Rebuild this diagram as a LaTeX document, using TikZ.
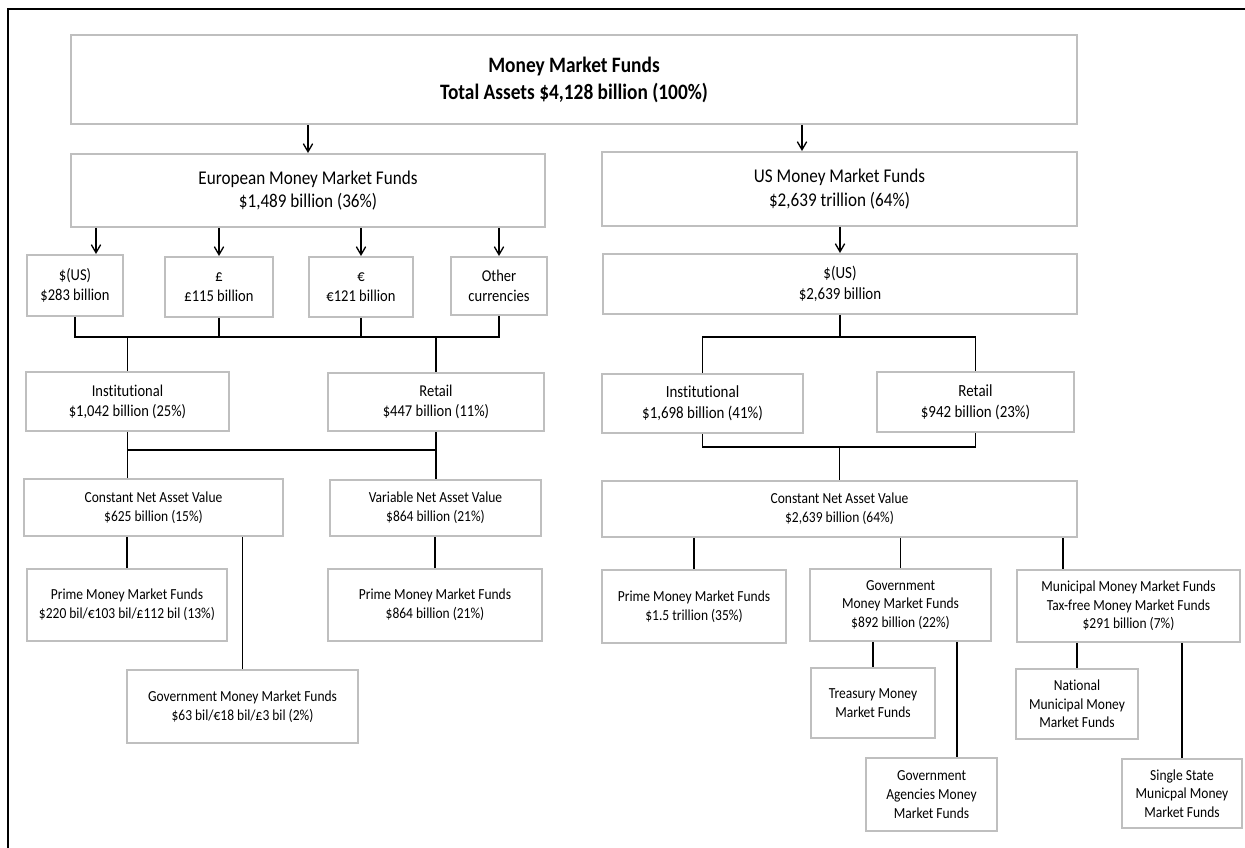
\documentclass[tikz,border=0pt]{standalone}
\usepackage{fontspec}
\setmainfont{Carlito}[FakeStretch=0.88,RawFeature=-liga,RawFeature=-clig,RawFeature=-calt,RawFeature=-dlig]
\usetikzlibrary{arrows.meta,calc}
\definecolor{boxgray}{HTML}{BFBFBF}
\begin{document}
\begin{tikzpicture}[x=0.75pt,y=-0.75pt,
  bx/.style={draw=boxgray,line width=1.5pt,align=center,inner sep=0pt,fill=white},
  sz/.style 2 args={minimum width={(#1)*0.75pt},minimum height={(#2)*0.75pt}},
  ln/.style={line width=1.4pt,black},
  arr/.style={line width=1pt,-{Straight Barb[length=6pt,width=7pt,line width=1pt]}},
  fta/.style={font=\bfseries\fontsize{16.5}{20.25}\selectfont},
  ftb/.style={font=\fontsize{14.6}{17.6}\selectfont},
  ftc/.style={font=\fontsize{12.4}{15}\selectfont},
  ftd/.style={font=\fontsize{12.75}{15.75}\selectfont},
  fte/.style={font=\fontsize{11.5}{14}\selectfont}]
\useasboundingbox (0,0) rectangle (1245,848);
\draw[line width=1pt] (8,848) -- (8,9) -- (1245,9);

\node[bx,sz={1006}{89},fta] (top) at (574,79.5) {Money Market Funds\\Total Assets \$4,128 billion (100\%)};
\node[bx,sz={474}{73},ftb] (euro) at (308,190.5) {European Money Market Funds\\\$1,489 billion (36\%)};
\node[bx,sz={475}{74},ftb] (us) at (839.5,189) {US Money Market Funds\\\$2,639 trillion (64\%)};

\node[bx,sz={96}{61},ftc] (cusd) at (75,285.5) {\$(US)\\\$283 billion};
\node[bx,sz={108}{60},ftc] (cgbp) at (219,287) {£\\£115 billion};
\node[bx,sz={104}{60},ftc] (ceur) at (361,287) {€\\€121 billion};
\node[bx,sz={96}{58},ftc] (coth) at (499,286) {Other\\currencies};

\node[bx,sz={203}{59},ftc] (instE) at (127.5,401.5) {Institutional\\\$1,042 billion (25\%)};
\node[bx,sz={216}{58},ftc] (retE) at (436,402) {Retail\\\$447 billion (11\%)};
\node[bx,sz={259}{57},fte] (cnavE) at (153.5,507.5) {Constant Net Asset Value\\\$625 billion (15\%)};
\node[bx,sz={211}{56},fte] (vnavE) at (435.5,508) {Variable Net Asset Value\\\$864 billion (21\%)};
\node[bx,sz={200}{72},fte] (primeE) at (127,605) {Prime Money Market Funds\\\$220 bil/€103 bil/£112 bil (13\%)};
\node[bx,sz={231}{73},fte] (govE) at (242.5,706.5) {Government Money Market Funds\\\$63 bil/€18 bil/£3 bil (2\%)};
\node[bx,sz={214}{72},fte] (primeV) at (435,605) {Prime Money Market Funds\\\$864 billion (21\%)};

\node[bx,sz={474}{60},ftd] (usd) at (840,284) {\$(US)\\\$2,639 billion};
\node[bx,sz={201}{59},ftd] (instU) at (702.5,403.5) {Institutional\\\$1,698 billion (41\%)};
\node[bx,sz={197}{60},ftd] (retU) at (975.5,402) {Retail\\\$942 billion (23\%)};
\node[bx,sz={475}{56},fte] (cnavU) at (839.5,509) {Constant Net Asset Value\\\$2,639 billion (64\%)};
\node[bx,sz={184}{73},fte] (primeU) at (694,606.5) {Prime Money Market Funds\\\$1.5 trillion (35\%)};
\node[bx,sz={181}{72},fte] (govU) at (900.5,605) {Government\\Money Market Funds\\\$892 billion (22\%)};
\node[bx,sz={223}{72},fte] (muni) at (1128.5,606) {Municipal Money Market Funds\\Tax-free Money Market Funds\\\$291 billion (7\%)};
\node[bx,sz={124}{70},fte] (treas) at (873,703) {Treasury Money\\Market Funds};
\node[bx,sz={131}{73},fte] (agen) at (931.5,794.5) {Government\\Agencies Money\\Market Funds};
\node[bx,sz={122}{70},fte] (natl) at (1077,704) {National\\Municipal Money\\Market Funds};
\node[bx,sz={120}{69},fte] (single) at (1182,793.5) {Single State\\Municpal Money\\Market Funds};

% arrows
\draw[arr] (euro.north |- top.south) -- (euro.north);
\coordinate (a2) at (802,0);
\draw[arr] (top.south -| a2) -- (us.north -| a2);
\coordinate (a3) at (96,0);
\draw[arr] (euro.south -| a3) -- (cusd.north -| a3);
\draw[arr] (euro.south -| cgbp.north) -- (cgbp.north);
\draw[arr] (euro.south -| ceur.north) -- (ceur.north);
\draw[arr] (euro.south -| coth.north) -- (coth.north);
\draw[arr] (us.south -| usd.north) -- (usd.north);

% left connectors
\coordinate (busA) at (0,337);
\coordinate (busB) at (0,450);
\draw[ln] (cusd.south) -- (cusd.south |- busA) -- (coth.south |- busA) -- (coth.south);
\draw[ln] (cgbp.south) -- (cgbp.south |- busA);
\draw[ln] (ceur.south) -- (ceur.south |- busA);
\draw[ln] (instE.north |- busA) -- (instE.north);
\draw[ln] (retE.north |- busA) -- (retE.north);
\draw[ln] (instE.south) -- (instE.south |- cnavE.north);
\draw[ln] (retE.south) -- (retE.south |- vnavE.north);
\draw[ln] (instE.south |- busB) -- (retE.south |- busB);
\draw[ln] (primeE.north) -- (primeE.north |- cnavE.south);
\draw[ln] (govE.north) -- (govE.north |- cnavE.south);
\draw[ln] (primeV.north) -- (primeV.north |- vnavE.south);

% right connectors
\coordinate (busD) at (0,447);
\draw[ln] (usd.south) -- (usd.south |- busA);
\draw[ln] (instU.north) -- (instU.north |- busA) -- (retU.north |- busA) -- (retU.north);
\draw[ln] (instU.south) -- (instU.south |- busD) -- (retU.south |- busD) -- (retU.south);
\draw[ln] (cnavU.north |- busD) -- (cnavU.north);
\draw[ln] (primeU.north) -- (primeU.north |- cnavU.south);
\draw[ln] (govU.north) -- (govU.north |- cnavU.south);
\coordinate (m1) at (1063,0);
\draw[ln] (cnavU.south -| m1) -- (muni.north -| m1);
\draw[ln] (treas.north) -- (treas.north |- govU.south);
\coordinate (g2) at (957,0);
\draw[ln] (govU.south -| g2) -- (agen.north -| g2);
\draw[ln] (natl.north) -- (natl.north |- muni.south);
\draw[ln] (single.north) -- (single.north |- muni.south);
\end{tikzpicture}
\end{document}
